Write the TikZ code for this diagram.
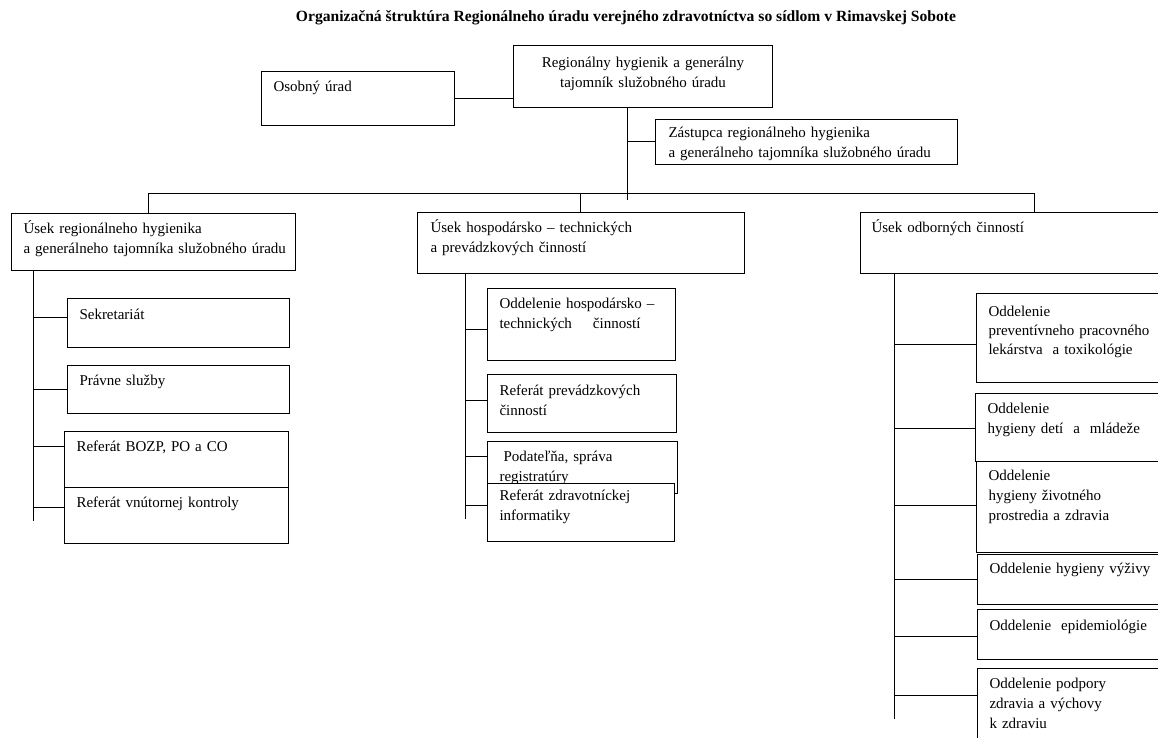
\documentclass[tikz,border=0pt]{standalone}
\usepackage{fontspec}
\setmainfont{Liberation Serif}
\usetikzlibrary{positioning, calc}

\begin{document}
\begin{tikzpicture}[x=1pt, y=-1pt]
\tikzset{unit box/.style={
    draw, fill=white, line width=1pt,
    rectangle, anchor=north west,
    inner xsep=12pt, inner ysep=0pt,
    align=left, text height=20pt,
    font=\fontsize{15}{20}\selectfont
  },
  link/.style={line width=1pt}
}

\useasboundingbox (0,0) rectangle (1158,738);
\clip (0,0) rectangle (1158,738);

\node[font=\bfseries\fontsize{15.6}{18}\selectfont] (title) at (626,18) {Organizačná štruktúra Regionálneho úradu verejného zdravotníctva so sídlom v Rimavskej Sobote};

% vedenie
\node[unit box, align=center, text width=235pt, text height=22pt, text depth=40pt] (rh) at (513,45) {Regionálny hygienik a generálny\\tajomník služobného úradu};
\node[unit box, text width=169pt, text depth=34pt] (ou) at (261,71) {Osobný úrad};
\node[unit box, inner xsep=13pt, text width=276pt, text height=18pt, text depth=27pt] (zast) at (655,119) {Zástupca regionálneho hygienika\\a generálneho tajomníka služobného úradu};

% useky
\node[unit box, text width=260pt, text depth=37pt] (usek1) at (11,213) {Úsek regionálneho hygienika\\\mbox{a generálneho tajomníka služobného úradu}};
\node[unit box, inner xsep=13pt, text width=301pt, text depth=41pt] (usek2) at (417,212) {Úsek hospodársko -- technických\\a prevádzkových činností};
\node[unit box, inner xsep=11pt, text width=288pt, text depth=41pt] (usek3) at (860,212) {Úsek odborných činností};

% usek regionalneho hygienika
\node[unit box, text width=198pt, text height=21pt, text depth=28pt] (sekr) at (67,298) {Sekretariát};
\node[unit box, text width=198pt, text depth=28pt] (prav) at (67,365) {Právne služby};
\node[unit box, text width=200pt, text depth=36pt] (bozp) at (64,431) {Referát BOZP, PO a CO};
\node[unit box, text width=200pt, text depth=36pt] (vnut) at (64,487) {Referát vnútornej kontroly};

% usek hospodarsko-technickych cinnosti
\node[unit box, text width=164pt, text depth=52pt] (ohtc) at (487,288) {Oddelenie hospodársko --\\technických\hspace{16pt} činností};
\node[unit box, text width=165pt, text height=21pt, text depth=37pt] (rpc) at (487,374) {Referát prevádzkových\\činností};
\node[unit box, text width=166pt, text depth=32pt] (podat) at (487,441) {\hspace{4pt}Podateľňa, správa\\registratúry};
\node[unit box, text width=163pt, text height=17pt, text depth=41pt] (rzi) at (487,483) {Referát zdravotníckej\\informatiky};

% usek odbornych cinnosti
\node[unit box, text width=170pt, text height=23pt, text depth=66pt, font=\fontsize{15}{19}\selectfont] (opplt) at (976,293) {Oddelenie\\preventívneho pracovného\\lekárstva\ \ a toxikológie};
\node[unit box, text width=171pt, text depth=48pt] (ohdm) at (975,393) {Oddelenie\\hygieny detí\ \ a\ \ mládeže};
\node[unit box, text width=170pt, text height=19pt, text depth=72pt] (ohzp) at (976,461) {Oddelenie\\hygieny životného\\prostredia a zdravia};
\node[unit box, text width=169pt, text height=19pt, text depth=31pt] (ohv) at (977,554) {Oddelenie hygieny výživy};
\node[unit box, text width=169pt, text height=21pt, text depth=29pt] (oep) at (977,609) {Oddelenie\ \ epidemiológie};
\node[unit box, text width=169pt, text depth=80pt] (opz) at (977,668) {Oddelenie podpory\\zdravia a výchovy\\k zdraviu};

\draw[link] (ou.east) -- (ou.east -| rh.west);
\coordinate (hub) at ([xshift=114pt]rh.south west);
\draw[link] (hub) -- ++(0,92);
\draw[link] (hub |- zast.west) -- (zast.west);
\draw[link] ([xshift=137pt]usek1.north west) -- ++(0,-20) -| ([xshift=174pt]usek3.north west);
\draw[link] ([xshift=163pt]usek2.north west) -- ++(0,-19);

\coordinate (sp1) at ([xshift=22pt]usek1.south west);
\coordinate (sp2) at ([xshift=48pt]usek2.south west);
\coordinate (sp3) at ([xshift=34pt]usek3.south west);
\draw[link] (sp1) -- ++(0,250);
\draw[link] (sp2) -- ++(0,245);
\draw[link] (sp3) -- ++(0,445);

\foreach \n/\d in {sekr/19, prav/24, bozp/15, vnut/20}
  \draw[link] ([yshift=-\d pt]\n.north west) -- ([yshift=-\d pt]sp1 |- \n.north west);
\foreach \n/\d in {ohtc/41, rpc/26, podat/15, rzi/22}
  \draw[link] ([yshift=-\d pt]\n.north west) -- ([yshift=-\d pt]sp2 |- \n.north west);
\foreach \n/\d in {opplt/51, ohdm/35, ohzp/44, ohv/25, oep/27, opz/27}
  \draw[link] ([yshift=-\d pt]\n.north west) -- ([yshift=-\d pt]sp3 |- \n.north west);

\end{tikzpicture}
\end{document}
